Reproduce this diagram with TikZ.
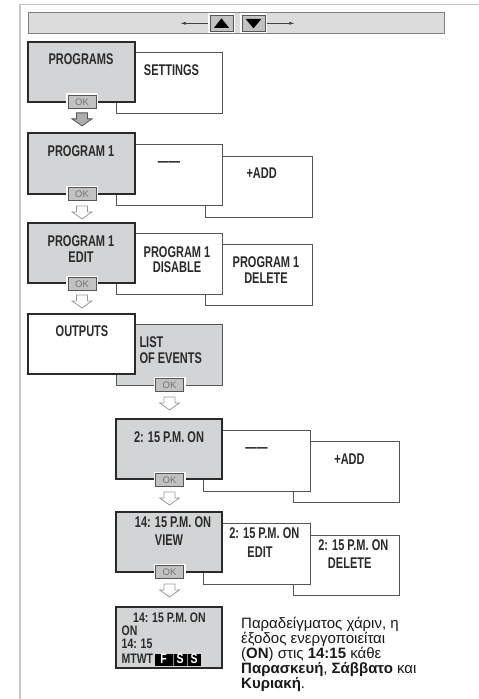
\documentclass[tikz,border=0pt]{standalone}
\usepackage{fontspec}
\setmainfont{Liberation Sans}
\newfontfamily\condfont[FakeStretch=0.71]{Liberation Sans Bold}
\newfontfamily\lcdfont[FakeStretch=0.76]{Liberation Sans Bold}
\usetikzlibrary{arrows.meta}
\definecolor{boxgray}{HTML}{D3D4D6}
\definecolor{bargray}{HTML}{DCDCDC}
\definecolor{dk}{HTML}{2A2A2A}
\definecolor{md}{HTML}{555555}
\definecolor{framegray}{HTML}{C8C8C8}
\definecolor{okfill}{HTML}{C2C2C2}
\definecolor{arrowline}{HTML}{9A9A9A}
\tikzset{
  wh/.style 2 args={minimum width=#1bp, minimum height=#2bp},
  anybox/.style={anchor=north west, inner sep=0pt, outer sep=0pt},
  activebox/.style={anybox, draw=dk, line width=1.5bp, fill=boxgray},
  plainbox/.style={anybox, draw=md, line width=0.9bp, fill=white},
  outbox/.style={anybox, draw=dk, line width=1.5bp, fill=white},
  listbox/.style={anybox, draw=md, line width=0.9bp, fill=boxgray},
  lcdbox/.style={anybox, draw=dk, line width=1.2bp, fill=boxgray},
  lbl/.style={font=\condfont\fontsize{15.5bp}{16bp}\selectfont, text=dk, inner sep=0pt, anchor=base},
  lbll/.style={lbl, anchor=base west},
  lcdl/.style={font=\lcdfont\fontsize{13.8bp}{14bp}\selectfont, text=dk, inner sep=0pt, anchor=base west},
  okbtn/.style={draw=md, line width=0.8bp, fill=okfill, minimum width=28bp, minimum height=13bp,
     inner sep=0pt, font=\fontsize{9.5bp}{10bp}\selectfont, text=black!55,
     preaction={draw=white, line width=4bp}},
  navbtn/.style={draw=md, line width=0.8bp, fill=okfill, minimum width=23bp, minimum height=16bp,
     inner sep=0pt, preaction={draw=white, line width=4bp}},
  greek/.style={font=\fontsize{15bp}{15bp}\selectfont, text=black!90, inner sep=0pt, anchor=base west},
  darrow/.pic={\draw[pic actions, line width=0.8bp] (-5.5,0) -- (5.5,0) -- (5.5,6) -- (10,6) -- (0,13) -- (-10,6) -- (-5.5,6) -- cycle;},
  darkarrow/.style={fill=black!32, draw=md},
  lightarrow/.style={fill=white, draw=arrowline},
}
\begin{document}
\begin{tikzpicture}[x=1bp,y=-1bp]
\useasboundingbox (0,0) rectangle (479,699);
\fill[white] (0,0) rectangle (479,699);
% frame
\draw[framegray, line width=1.3bp] (20,699) -- (20,4.5) -- (479,4.5);
% top bar
\node[anybox, draw=black!50, line width=0.9bp, fill=bargray, wh={416}{21}] (bar) at (28,12) {};
\node[navbtn] (up) at (221.5,23.3) {};
\node[navbtn] (dn) at (253.5,23.3) {};
\fill[black] ([shift={(-7.5,4.5)}]up.center) -- ([shift={(7.5,4.5)}]up.center) -- ([shift={(0,-5)}]up.center) -- cycle;
\fill[black] ([shift={(-8,-4.5)}]dn.center) -- ([shift={(8,-4.5)}]dn.center) -- ([shift={(0,5)}]dn.center) -- cycle;
\draw[black!75, line width=0.6bp, -{Latex[length=5bp,width=3bp]}] ([xshift=-2bp]up.west) -- ++(-27,0) coordinate (lft);
\draw[black!75, line width=0.6bp, -{Latex[length=5bp,width=3bp]}] ([xshift=2bp]dn.east) -- ++(27,0) coordinate (rgt);

% row 1
\node[plainbox, wh={106}{61}] (settings) at (116,52) {};
\node[activebox, wh={107}{60}] (programs) at (28,42) {};
\node[lbl] (tprograms) at (81,64.5) {PROGRAMS};
\node[lbl] (tsettings) at (171.5,75.5) {SETTINGS};
\node[okbtn] (ok1) at (82,102) {OK};
\pic[darkarrow] at ([yshift=-4bp]ok1.south) {darrow};

% row 2
\node[plainbox, wh={107}{61}] (add1) at (205,156) {};
\node[plainbox, wh={106}{61}] (dash1) at (116,144) {};
\node[activebox, wh={107}{61}] (prog1) at (28,133) {};
\node[lbl] (tprog1) at (81,156) {PROGRAM 1};
\node[lbl] (tdash1) at (169,166) {——};
\node[lbl] (tadd1) at (261.7,178) {+ADD};
\node[okbtn] (ok2) at (82,194) {OK};
\pic[lightarrow] at ([yshift=-5bp]ok2.south) {darrow};

% row 3
\node[plainbox, wh={107}{61}] (del1) at (205,244) {};
\node[plainbox, wh={106}{61}] (dis1) at (116,233) {};
\node[activebox, wh={107}{60}] (edit1) at (28,223) {};
\node[lbl] (tedit1a) at (81,246) {PROGRAM 1};
\node[lbl] (tedit1b) at (81,262) {EDIT};
\node[lbl] (tdis1a) at (177,257) {PROGRAM 1};
\node[lbl] (tdis1b) at (177,272) {DISABLE};
\node[lbl] (tdel1a) at (266,267.6) {PROGRAM 1};
\node[lbl] (tdel1b) at (266,283) {DELETE};
\node[okbtn] (ok3) at (82,284) {OK};
\pic[lightarrow] at ([yshift=-4bp]ok3.south) {darrow};

% row 4
\node[listbox, wh={106}{61}] (list) at (116,324) {};
\node[outbox, wh={107}{60}] (outputs) at (28,314) {};
\node[lbl] (toutputs) at (82,336.3) {OUTPUTS};
\node[lbll] (tlista) at (139.3,347) {LIST};
\node[lbll] (tlistb) at (139.3,363) {OF EVENTS};
\node[okbtn] (ok4) at (169.5,385) {OK};
\pic[lightarrow] at ([yshift=-5bp]ok4.south) {darrow};

% row 5
\node[plainbox, wh={106}{61}] (add2) at (293,441) {};
\node[plainbox, wh={107}{61}] (dash2) at (203,430) {};
\node[activebox, wh={106}{60}] (ev) at (116,419) {};
\node[lbl] (tev) at (169,442) {2: 15 P.M. ON};
\node[lbl] (tdash2) at (256.5,452.4) {——};
\node[lbl] (tadd2) at (349.5,464.3) {+ADD};
\node[okbtn] (ok5) at (169.5,480) {OK};
\pic[lightarrow] at ([yshift=-5bp]ok5.south) {darrow};

% row 6
\node[plainbox, wh={106}{60}] (del2) at (293,535) {};
\node[plainbox, wh={107}{61}] (edit2) at (203,523) {};
\node[activebox, wh={106}{60}] (view) at (116,512) {};
\node[lbl] (tviewa) at (173,527) {14: 15 P.M. ON};
\node[lbl] (tviewb) at (169,545.3) {VIEW};
\node[lbl] (tedit2a) at (264.3,538.6) {2: 15 P.M. ON};
\node[lbl] (tedit2b) at (260,557) {EDIT};
\node[lbl] (tdel2a) at (353.3,550.3) {2: 15 P.M. ON};
\node[lbl] (tdel2b) at (349.7,568.6) {DELETE};
\node[okbtn] (ok6) at (169.5,572) {OK};
\pic[lightarrow] at ([yshift=-5bp]ok6.south) {darrow};

% final display
\node[lcdbox, wh={106}{61}] (lcd) at (116,607) {};
\node[lcdl] (lcda) at (133,622.5) {14: 15 P.M. ON};
\node[lcdl] (lcdb) at (121.5,635.5) {ON};
\node[lcdl] (lcdc) at (121.5,648) {14: 15};
\node[lcdl] (lcdd) at (121.5,663.5) {MTWT};
\node[anybox, fill=black, wh={46}{12.5}] (days) at (155,653.5) {};
\draw[black!45, line width=0.6bp] (173,653.5) -- (173,666);
\draw[black!45, line width=0.6bp] (187,653.5) -- (187,666);
\node[lcdl, anchor=base, text=white] (dayf) at (163.5,663.5) {F};
\node[lcdl, anchor=base, text=white] (days1) at (180,663.5) {S};
\node[lcdl, anchor=base, text=white] (days2) at (194,663.5) {S};

% greek caption
\node[greek] (g1) at (241,628) {Παραδείγματος χάριν, η};
\node[greek] (g2) at (241,643) {έξοδος ενεργοποιείται};
\node[greek] (g3) at (241,658) {(\textbf{ON}) στις \textbf{14:15} κάθε};
\node[greek] (g4) at (241,673) {\textbf{Παρασκευή}, \textbf{Σάββατο} και};
\node[greek] (g5) at (241,688) {\textbf{Κυριακή}.};
\end{tikzpicture}
\end{document}
